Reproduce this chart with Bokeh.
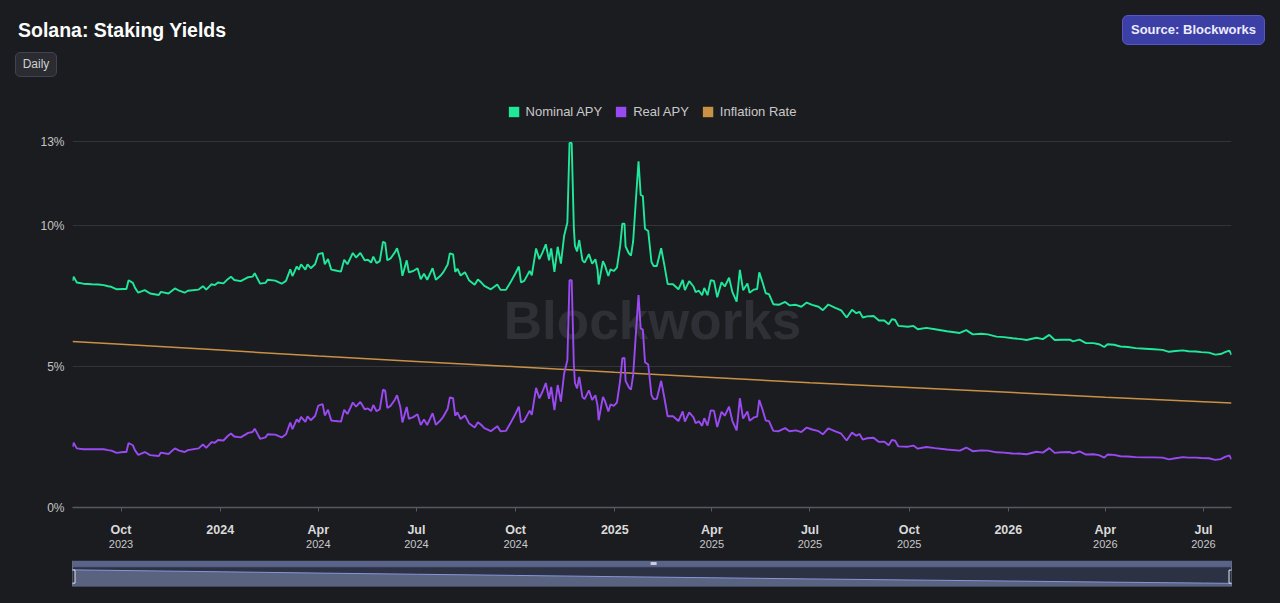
import pandas as pd
from bokeh.plotting import figure
from bokeh.models import (Range1d, FixedTicker, DatetimeAxis, Legend, LegendItem, Label,
                          Div, PrintfTickFormatter, ColumnDataSource)
from bokeh.layouts import column
from bokeh.embed import file_html
from bokeh.resources import INLINE

# ---------------- data ----------------
start_date = "2023-08-17"
day_offset = [0, 1, 4, 10, 18, 24, 29, 33, 36, 41, 47, 50, 52, 56, 58, 61, 67, 72, 80, 82,
              89, 95, 99, 104, 107, 117, 121, 124, 129, 132, 135, 140, 144, 147, 150, 156, 163, 167, 169, 174,
              179, 181, 188, 194, 198, 202, 204, 208, 210, 212, 216, 218, 221, 225, 228, 232, 234, 237, 240, 244,
              249, 252, 255, 260, 263, 267,
              271, 274, 277, 279, 282, 285, 288, 290, 292, 295, 299, 301, 304, 306, 310, 312, 316, 320, 323, 326,
              329, 334, 337, 341, 344, 348, 350, 353, 355, 357, 360, 364, 368, 373, 376, 379, 382, 388, 394, 397,
              402, 406, 411, 414, 416, 419, 424, 426, 430, 433, 436, 439, 442, 444, 447, 450, 453, 456, 459, 461,
              463, 465, 466, 468, 470, 473, 475, 479, 482, 485, 487, 488, 492, 494, 497, 499, 502, 505, 508, 510,
              512, 513, 516, 518, 520, 523, 525, 527, 529,
              531, 534, 537, 539, 542, 546, 549, 552, 557, 562, 566, 568, 572, 576, 578, 581, 584, 586, 589, 592,
              595, 598, 602, 605, 609, 612, 616, 619, 622, 626, 628, 632, 635, 637, 640, 643, 646, 650, 655, 661,
              665, 671, 676, 681, 686, 692, 696,
              701, 707, 713, 718, 723, 727, 730, 733, 737, 743, 748, 753, 757, 760, 763, 766, 775, 780, 784, 792,
              800,
              811, 823, 829, 835, 843, 849, 857, 864, 872, 880, 885, 894, 900, 906, 911, 917, 925, 928, 934, 940,
              947, 952, 957, 960, 966, 972, 979, 986, 995, 1003, 1011, 1017, 1023, 1030, 1035, 1042, 1047, 1054, 1060, 1065,
              1069, 1073, 1075]

nominal_apy = [8.05, 8.20, 7.99, 7.95, 7.93, 7.92, 7.90, 7.86, 7.84, 7.75, 7.76, 7.76, 8.07, 7.98, 7.80, 7.63, 7.72, 7.60, 7.55, 7.66,
               7.60, 7.78, 7.70, 7.63, 7.70, 7.74, 7.86, 7.74, 7.93, 7.90, 7.99, 7.96, 8.11, 8.20, 8.08, 8.04, 8.18, 8.20, 8.32, 7.95,
               7.98, 8.09, 8.06, 7.95, 8.05, 8.46, 8.22, 8.56, 8.45, 8.64, 8.45, 8.64, 8.50, 8.64, 9.00, 9.04, 8.64, 8.83, 8.45, 8.42,
               8.38, 8.80, 8.64, 9.04, 8.88, 9.04,
               8.78, 8.80, 8.70, 8.91, 8.68, 8.75, 9.44, 9.40, 8.78, 8.85, 9.06, 9.21, 8.80, 8.23, 8.78, 8.35, 8.40, 8.50, 8.11, 8.30,
               8.09, 8.50, 8.09, 8.22, 8.36, 8.63, 9.03, 8.99, 8.37, 8.48, 8.24, 8.36, 8.06, 7.91, 8.10, 8.00, 7.87, 7.75, 7.92, 7.73,
               7.73, 7.98, 8.33, 8.56, 8.00, 8.05, 8.40, 8.25, 9.20, 8.82, 9.06, 9.35, 8.78, 9.20, 8.37, 9.26, 8.66, 9.65, 10.12, 12.95,
               12.95, 9.95, 9.30, 9.10, 9.50, 8.78, 8.70, 9.00, 8.66, 8.82, 8.45, 7.92, 8.75, 8.58, 8.22, 8.46, 8.40, 8.52, 9.30, 10.08,
               10.08, 9.27, 9.03, 8.95, 9.45, 11.18, 12.30, 11.10, 11.06,
               9.90, 9.82, 8.72, 8.58, 8.58, 9.21, 8.60, 7.94, 7.93, 7.75, 8.08, 7.72, 8.04, 7.85, 7.65, 7.70, 7.54, 7.80, 7.54, 8.07,
               8.05, 7.47, 8.00, 7.85, 8.16, 7.66, 7.31, 8.44, 7.72, 7.96, 7.63, 7.74, 7.76, 8.35, 8.00, 7.61, 7.58, 7.22, 7.20, 7.30,
               7.18, 7.20, 7.13, 7.28, 7.20, 7.13, 7.01,
               7.21, 7.10, 7.00, 6.75, 7.02, 6.90, 6.95, 6.75, 6.79, 6.80, 6.64, 6.64, 6.51, 6.69, 6.66, 6.45, 6.42, 6.45, 6.33, 6.38,
               6.33,
               6.26, 6.20, 6.30, 6.15, 6.17, 6.15, 6.07, 6.05, 6.01, 5.98, 5.95, 6.03, 5.98, 6.13, 5.95, 5.96, 5.96, 5.90, 5.96, 5.84,
               5.84, 5.80, 5.70, 5.80, 5.78, 5.72, 5.70, 5.66, 5.64, 5.62, 5.60, 5.53, 5.56, 5.58, 5.55, 5.54, 5.52, 5.50, 5.43, 5.45,
               5.52, 5.57, 5.42]

real_apy = [2.15, 2.30, 2.10, 2.07, 2.07, 2.07, 2.07, 2.04, 2.02, 1.94, 1.97, 1.97, 2.29, 2.21, 2.03, 1.87, 1.97, 1.86, 1.83, 1.95,
            1.90, 2.10, 2.02, 1.97, 2.04, 2.10, 2.24, 2.12, 2.32, 2.30, 2.40, 2.38, 2.54, 2.63, 2.52, 2.49, 2.65, 2.68, 2.80, 2.44,
            2.49, 2.60, 2.59, 2.49, 2.60, 3.02, 2.78, 3.13, 3.03, 3.22, 3.04, 3.24, 3.10, 3.25, 3.62, 3.67, 3.27, 3.47, 3.09, 3.07,
            3.05, 3.47, 3.32, 3.73, 3.58, 3.75,
            3.49, 3.52, 3.43, 3.64, 3.42, 3.49, 4.19, 4.15, 3.54, 3.61, 3.83, 3.99, 3.58, 3.02, 3.57, 3.15, 3.21, 3.31, 2.93, 3.13,
            2.93, 3.35, 2.94, 3.08, 3.23, 3.51, 3.91, 3.88, 3.26, 3.38, 3.14, 3.27, 2.98, 2.84, 3.03, 2.94, 2.82, 2.71, 2.89, 2.71,
            2.72, 2.98, 3.34, 3.58, 3.02, 3.08, 3.44, 3.29, 4.25, 3.88, 4.12, 4.42, 3.86, 4.28, 3.46, 4.35, 3.76, 4.76, 5.23, 8.07,
            8.07, 5.08, 4.43, 4.23, 4.64, 3.92, 3.85, 4.16, 3.82, 3.99, 3.62, 3.10, 3.93, 3.77, 3.41, 3.66, 3.61, 3.73, 4.52, 5.30,
            5.31, 4.50, 4.27, 4.19, 4.70, 6.43, 7.55, 6.36, 6.32,
            5.16, 5.08, 3.99, 3.85, 3.86, 4.50, 3.89, 3.24, 3.24, 3.07, 3.41, 3.05, 3.38, 3.20, 3.00, 3.06, 2.90, 3.17, 2.91, 3.45,
            3.44, 2.86, 3.40, 3.26, 3.58, 3.08, 2.74, 3.88, 3.16, 3.41, 3.08, 3.20, 3.23, 3.82, 3.48, 3.09, 3.07, 2.72, 2.71, 2.82,
            2.71, 2.74, 2.68, 2.84, 2.77, 2.71, 2.60,
            2.81, 2.71, 2.62, 2.38, 2.66, 2.55, 2.61, 2.41, 2.46, 2.48, 2.33, 2.34, 2.21, 2.40, 2.37, 2.17, 2.16, 2.20, 2.09, 2.15,
            2.11,
            2.06, 2.02, 2.13, 2.00, 2.03, 2.02, 1.96, 1.95, 1.92, 1.91, 1.89, 1.98, 1.95, 2.11, 1.94, 1.96, 1.97, 1.92, 1.99, 1.88,
            1.89, 1.86, 1.77, 1.88, 1.87, 1.82, 1.81, 1.79, 1.78, 1.78, 1.77, 1.71, 1.75, 1.79, 1.77, 1.77, 1.76, 1.75, 1.69, 1.72,
            1.80, 1.85, 1.71]

inflation_dates = ["2023-08-17", "2023-10-01", "2024-01-01", "2024-04-01", "2024-07-01", "2024-10-01", "2025-01-01",
                   "2025-04-01", "2025-07-01", "2025-10-01", "2026-01-01", "2026-04-01", "2026-07-01", "2026-07-27"]
inflation_rate = [5.90, 5.80, 5.59, 5.38, 5.19, 5.00, 4.80, 4.62, 4.43, 4.26, 4.09, 3.92, 3.76, 3.71]

tick_dates = ["2023-10-01", "2024-01-01", "2024-04-01", "2024-07-01", "2024-10-01", "2025-01-01",
              "2025-04-01", "2025-07-01", "2025-10-01", "2026-01-01", "2026-04-01", "2026-07-01"]
tick_month_labels = ["Oct", "2024", "Apr", "Jul", "Oct", "2025", "Apr", "Jul", "Oct", "2026", "Apr", "Jul"]
tick_year_labels = ["2023", "", "2024", "2024", "2024", "", "2025", "2025", "2025", "", "2026", "2026"]
y_ticks = [0, 5, 10, 13]

series_names = ["Nominal APY", "Real APY", "Inflation Rate"]

# ---------------- styling ----------------
BG = "#1b1c20"
FONT = "Liberation Sans"
GREEN = "#20e89a"
PURPLE = "#9a4af2"
ORANGE = "#c89146"
NAN = float("nan")

dates = pd.to_datetime(start_date) + pd.to_timedelta(day_offset, unit="D")
infl_dt = pd.to_datetime(inflation_dates)
x_start, x_end = dates[0], dates[-1]


def ms(ts):
    return int(pd.Timestamp(ts).value // 10**6)


tick_ms = [ms(d) for d in tick_dates]

src = ColumnDataSource(dict(date=dates, nominal=nominal_apy, real=real_apy))
src_infl = ColumnDataSource(dict(date=infl_dt, infl=inflation_rate))

# ---------------- header ----------------
header = Div(text=f"""
<div style="position:relative;box-sizing:border-box;width:1264px;height:82px;background:{BG};font-family:'Liberation Sans',Arial,sans-serif;">
  <div style="position:absolute;left:10px;top:9px;font-size:19.5px;font-weight:bold;color:#ffffff;white-space:nowrap;">Solana: Staking Yields</div>
  <div style="position:absolute;box-sizing:border-box;left:7px;top:44px;width:42px;height:25px;border:1px solid #40434f;border-radius:5px;background:#2a2c31;color:#d0d0d0;font-size:12px;line-height:23px;text-align:center;">Daily</div>
  <div style="position:absolute;box-sizing:border-box;left:1114px;top:7px;width:143px;height:30px;border:1px solid #5558c4;border-radius:6px;background:#3c3fa6;color:#ececff;font-size:13px;font-weight:bold;line-height:28px;text-align:center;white-space:nowrap;">Source: Blockworks</div>
</div>""", width=1264, height=82, margin=0)

# ---------------- main chart ----------------
p = figure(width=1264, height=467, x_axis_type="datetime", output_backend="svg", toolbar_location=None,
           x_range=Range1d(x_start, x_end), y_range=Range1d(0, 14.634),
           min_border_left=61, min_border_right=41, min_border_top=5, min_border_bottom=50,
           background_fill_color=BG, border_fill_color=BG, outline_line_color=None, margin=0)

p.xgrid.visible = False
p.ygrid.ticker = FixedTicker(ticks=y_ticks)
p.ygrid.grid_line_color = "#333439"
p.ygrid.grid_line_width = 1

yax = p.yaxis[0]
yax.ticker = FixedTicker(ticks=y_ticks)
yax.formatter = PrintfTickFormatter(format="%d%%")
yax.axis_line_color = None
yax.major_tick_line_color = None
yax.minor_tick_line_color = None
yax.major_tick_out = 0
yax.major_label_standoff = 8
yax.major_label_text_font = FONT
yax.major_label_text_font_size = "12px"
yax.major_label_text_color = "#c4c4c4"

ax1 = p.xaxis[0]
ax1.ticker = FixedTicker(ticks=tick_ms)
ax1.major_label_overrides = dict(zip(tick_ms, tick_month_labels))
ax1.major_label_text_font = FONT
ax1.major_label_text_font_style = "bold"
ax1.major_label_text_font_size = "12.5px"
ax1.major_label_text_color = "#dadada"
ax1.axis_line_color = "#58595e"
ax1.axis_line_width = 1.5
ax1.major_tick_line_color = "#58595e"
ax1.major_tick_out = 4
ax1.major_tick_in = 0
ax1.minor_tick_line_color = None
ax1.major_label_standoff = 11

ax2 = DatetimeAxis(ticker=FixedTicker(ticks=tick_ms),
                   major_label_overrides=dict(zip(tick_ms, tick_year_labels)),
                   axis_line_color=None, major_tick_line_color=None, minor_tick_line_color=None,
                   major_tick_out=0, major_tick_in=0, major_label_standoff=0,
                   major_label_text_font=FONT, major_label_text_font_size="11px",
                   major_label_text_color="#c8c8c8")
p.add_layout(ax2, "below")

wm = Label(x=ms("2025-02-05"), y=6.64, text="Blockworks", text_align="center", text_baseline="middle",
           text_font=FONT, text_font_style="bold", text_font_size="53px", text_color="#2f3035",
           level="underlay")
p.add_layout(wm)

p.line("date", "infl", source=src_infl, line_color=ORANGE, line_width=1.5)
p.line("date", "real", source=src, line_color=PURPLE, line_width=1.9)
p.line("date", "nominal", source=src, line_color=GREEN, line_width=1.9)

# legend swatches: one invisible (NaN) quad per series so the legend can draw a square
leg_r = []
for c in (GREEN, PURPLE, ORANGE):
    leg_r.append(p.quad(left=[NAN], right=[NAN], top=[NAN], bottom=[NAN], fill_color=c, line_color=None))

legend = Legend(items=[LegendItem(label=n, renderers=[r], index=0) for n, r in zip(series_names, leg_r)],
                location="top_center", orientation="horizontal",
                glyph_width=13, glyph_height=13, label_height=13, label_standoff=6, spacing=12,
                padding=0, margin=9, background_fill_alpha=0, border_line_color=None,
                label_text_font=FONT, label_text_font_size="13px", label_text_color="#c9c9c9")
p.add_layout(legend)

# ---------------- navigator ----------------
NAV_BOTTOM, NAV_AREA_TOP, NAV_TOP = 3.205, 6.404, 7.414
nav = figure(width=1264, height=38, x_axis_type="datetime", output_backend="svg", toolbar_location=None,
             x_range=Range1d(x_start, x_end), y_range=Range1d(NAV_BOTTOM, NAV_TOP),
             min_border_left=64, min_border_right=41, min_border_top=3, min_border_bottom=9,
             background_fill_color=BG, border_fill_color=BG, outline_line_color=None,
             x_axis_location=None, y_axis_location=None, margin=0)
nav.grid.visible = False
nav.quad(left=[x_start], right=[x_end], bottom=[NAV_BOTTOM], top=[NAV_AREA_TOP],
         fill_color="#2c3244", line_color="#56608a", line_width=1)
nav.varea(x="date", y1=NAV_BOTTOM, y2="infl", source=src_infl, fill_color="#59637f")
nav.line("date", "infl", source=src_infl, line_color="#8595d8", line_width=1)
nav.quad(left=[x_start], right=[x_end], bottom=[NAV_AREA_TOP], top=[NAV_TOP],
         fill_color="#5a6388", line_color=None)
nav.segment(x0=[x_start, x_end], x1=[x_start, x_end], y0=[NAV_BOTTOM, NAV_BOTTOM], y1=[NAV_TOP, NAV_TOP],
            line_color="#9aa2c4", line_width=1)
nav.rect(x=[x_start, x_end], y=[4.805, 4.805], width=5, height=13, width_units="screen",
         height_units="screen", fill_color="#2c3244", line_color="#e4e6ee", line_width=1)
nav.rect(x=[ms("2025-02-06")], y=[6.91], width=6, height=3, width_units="screen", height_units="screen",
         fill_color="#c8cce0", line_color=None)

layout = column(header, p, nav, spacing=0, margin=0)

html = file_html(layout, INLINE, title="Solana: Staking Yields")
page_css = ("<style>html { background-color: %s !important; } "
            "body { background-color: %s !important; margin: 8px !important; padding: 0 !important; "
            "height: auto !important; }</style>" % (BG, BG))
html = html.replace("</head>", page_css + "</head>", 1)
open("out.html", "w").write(html)
